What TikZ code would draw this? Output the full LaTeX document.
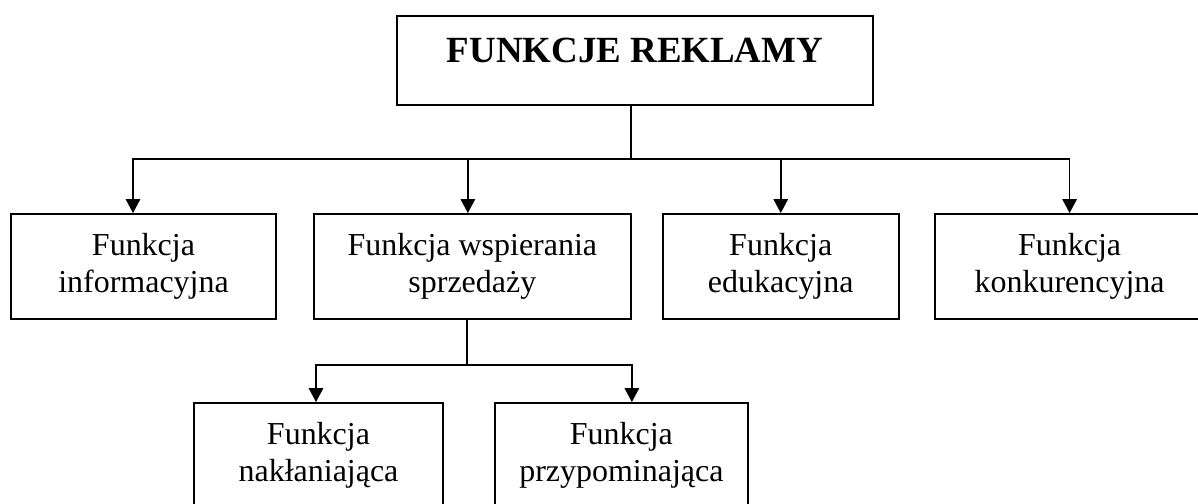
\documentclass[tikz,border=0pt]{standalone}
\usepackage{fontspec}
\setmainfont{Liberation Serif}
\usepackage{tikz}
\usetikzlibrary{arrows.meta,positioning,calc}

\begin{document}
\begin{tikzpicture}[->, >={Triangle[length=0.28cm,width=0.29cm]}, x=0.02cm, y=-0.02cm, line width=0.9pt]
        \tikzstyle{box}=[draw=black,line width=1.1pt,rectangle,align=center,minimum height=2.1cm,inner sep=0pt,font=\fontsize{18.2}{21}\selectfont]
        \tikzstyle{title}=[draw=black,line width=1.1pt,rectangle,inner sep=0pt,minimum width=9.52cm,text height=0.94cm,text depth=0.84cm,font=\fontsize{21}{25}\selectfont\bfseries]
        \clip (0,0) rectangle (1198,504);

        \node[title]    (R)     at (635,15) [anchor=north]      {FUNKCJE REKLAMY};

        \node[box,minimum width=5.3cm]     (I)     at (143.5,266.5)        {Funkcja\\informacyjna};
        \node[box,minimum width=6.34cm]    (S)     [right=0.72cm of I]     {Funkcja wspierania\\sprzedaży};
        \node[box,minimum width=4.72cm]    (E)     [right=0.6cm of S]      {Funkcja\\edukacyjna};
        \node[box,minimum width=5.4cm]     (K)     [right=0.68cm of E]     {Funkcja\\konkurencyjna};

        \node[box,minimum width=4.98cm]    (N)     at (318.5,455.5)        {Funkcja\\nakłaniająca};
        \node[box,minimum width=5.06cm]    (P)     [right=1cm of N]        {Funkcja\\przypominająca};

        \coordinate (top)  at (631,159);
        \coordinate (mid)  at (467,365);

        \draw[-] (top |- R.south) -- (top);
        \draw (top) -| ([xshift=-0.21cm]I.north);
        \draw (top) -| ([xshift=-0.09cm]S.north);
        \draw (top) -| (E.north);
        \draw (top) -| (K.north);

        \draw[-] (mid |- S.south) -- (mid);
        \draw (mid) -| ([xshift=-0.05cm]N.north);
        \draw (mid) -| ([xshift=0.21cm]P.north);
    \end{tikzpicture}
\end{document}
